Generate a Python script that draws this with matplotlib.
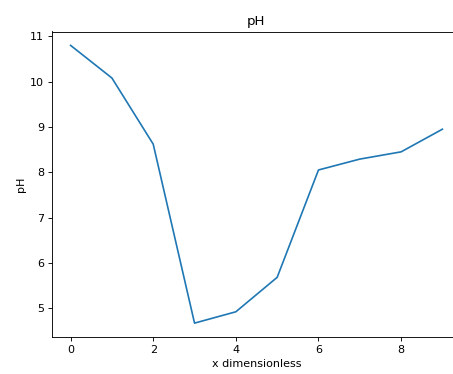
import numpy as np
import matplotlib
matplotlib.use("Agg")
import matplotlib.pyplot as plt

# pH along the dimensionless x coordinate
x = np.arange(10)
ph = [10.8, 10.08, 8.62, 4.67, 4.92, 5.68, 8.05, 8.29, 8.45, 8.95]

# reference looks like a default figure shrunk to ~80%, so draw at 80 dpi
fig = plt.figure(figsize=(453 / 80, 374 / 80), dpi=80)
# axes run past the right edge of the picture, as in the reference
ax = fig.add_axes([52 / 453, 37 / 374, 409 / 453, 305.5 / 374])
ax.plot(x, ph)
ax.set_title("pH")
ax.set_xlabel("x dimensionless")
ax.set_ylabel("pH")

fig.savefig("out.png", dpi=80)
